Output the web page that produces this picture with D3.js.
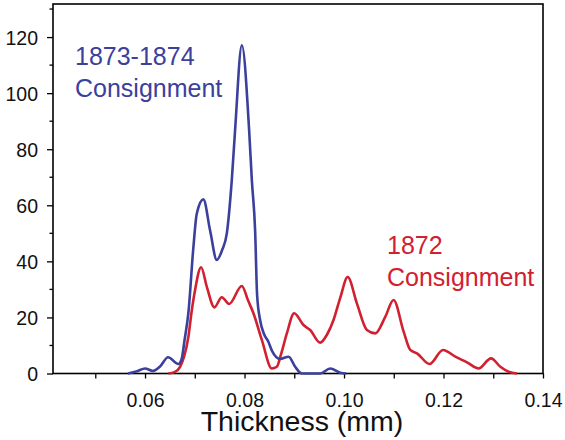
<!DOCTYPE html>
<html><head><meta charset="utf-8">
<script src="https://cdn.jsdelivr.net/npm/d3@7"></script>
<style>body{margin:0;background:#fff}svg{display:block;font-family:"Liberation Sans",Arial,sans-serif}</style>
</head><body>
<svg id="c" width="565" height="440"></svg>
<script>
const xTickValues = [0.05,0.06,0.07,0.08,0.09,0.10,0.11,0.12,0.13,0.14];
const xLabelValues = [0.06,0.08,0.10,0.12,0.14];
const yMajor = [0,20,40,60,80,100,120];
const yMinor = [10,30,50,70,90,110,130];
const seriesNames = ["1873-1874 Consignment","1872 Consignment"];
const blueThickness = [0.05658,0.05839,0.06,0.06161,0.06302,0.06463,0.0667,0.06734,0.06795,0.06871,0.06972,0.0704,0.07173,0.07308,0.07443,0.07549,0.07644,0.07744,0.07811,0.07946,0.08092,0.08147,0.08213,0.08253,0.08314,0.08394,0.08475,0.08555,0.08716,0.08887,0.09018,0.09153,0.09521,0.09722,0.09923,0.10044];
const blueCount = [0,0.8,1.8,0.9,2.5,5.8,3.4,5,12,21.5,45,57,62.1,51,40.5,44,50,69,87,117.1,87,69,51,28,19,14,11.5,8,5.2,6,2.4,0,0,1.8,0.3,0];
const redThickness = [0.06469,0.06604,0.06704,0.06785,0.06871,0.06936,0.07006,0.07127,0.07241,0.07394,0.07543,0.0769,0.07946,0.08072,0.08179,0.08348,0.08549,0.0865,0.08736,0.08851,0.08998,0.09185,0.0932,0.09521,0.09662,0.09789,0.09924,0.10074,0.10259,0.1046,0.10628,0.10829,0.10996,0.11197,0.11332,0.11467,0.1172,0.1199,0.12237,0.12473,0.12706,0.12955,0.13143,0.1331,0.13479];
const redCount = [0,0.6,2.4,6,13,22,29.8,37.9,31,23.6,27.2,24.8,31.2,26,21.5,12,1.8,2.4,7,14.3,21.5,17.3,15.5,11,14,19.1,27,34.4,25,15.5,14.3,20.2,26.2,15,8.4,7.2,3.4,8.4,6,4,1.8,5.4,2.4,0.6,0];

const blue = "#3b409c", red = "#d1202f";
const svg = d3.select("#c");
const L=53, R=543, T=4, B=373.5;
const x = d3.scaleLinear().domain([0.0415,0.14]).range([L,R]);
const y = d3.scaleLinear().domain([0,131.8]).range([B,T]);

const gx = svg.append("g").attr("transform",`translate(0,${B})`);
gx.call(d3.axisBottom(x).tickValues(xTickValues).tickSize(5).tickFormat(d=>xLabelValues.some(v=>Math.abs(v-d)<1e-9)?d3.format(".2f")(d):""))
  .call(g=>g.select(".domain").remove())
  .call(g=>g.selectAll("line").attr("stroke","#000").attr("stroke-width",1.3))
  .call(g=>g.selectAll("text").attr("font-size",19.5).attr("fill","#111").attr("dy","0").attr("y",33).attr("font-family","'Liberation Sans',Arial,sans-serif"));

const gy = svg.append("g").attr("transform",`translate(${L},0)`);
gy.call(d3.axisLeft(y).tickValues(yMajor).tickSize(6).tickPadding(9))
  .call(g=>g.select(".domain").remove())
  .call(g=>g.selectAll("line").attr("stroke","#000").attr("stroke-width",1.3))
  .call(g=>g.selectAll("text").attr("font-size",19.5).attr("fill","#111").attr("dy","0.38em").attr("font-family","'Liberation Sans',Arial,sans-serif"));
gy.selectAll(".minor").data(yMinor).join("line").attr("class","minor")
  .attr("x1",-3.5).attr("x2",0).attr("y1",d=>y(d)).attr("y2",d=>y(d)).attr("stroke","#000").attr("stroke-width",1.3);

svg.append("rect").attr("x",L).attr("y",T).attr("width",R-L).attr("height",B-T)
  .attr("fill","none").attr("stroke","#000").attr("stroke-width",1.6);

const line = d3.line().x(d=>x(d[0])).y(d=>y(d[1])).curve(d3.curveMonotoneX);
svg.append("path").datum(redThickness.map((t,i)=>[t,redCount[i]])).attr("d",line)
  .attr("fill","none").attr("stroke",red).attr("stroke-width",2.6);
svg.append("path").datum(blueThickness.map((t,i)=>[t,blueCount[i]])).attr("d",line)
  .attr("fill","none").attr("stroke",blue).attr("stroke-width",2.6);

const lab = svg.append("g").attr("font-size",25);
lab.append("text").attr("x",75).attr("y",65).attr("fill",blue).text("1873-1874");
lab.append("text").attr("x",75).attr("y",97).attr("fill",blue).text("Consignment");
lab.append("text").attr("x",387).attr("y",254).attr("fill",red).text("1872");
lab.append("text").attr("x",387).attr("y",286).attr("fill",red).text("Consignment");

svg.append("text").attr("x",302).attr("y",431).attr("text-anchor","middle").attr("font-size",28.5).attr("fill","#111").text("Thickness (mm)");
</script>
</body></html>
